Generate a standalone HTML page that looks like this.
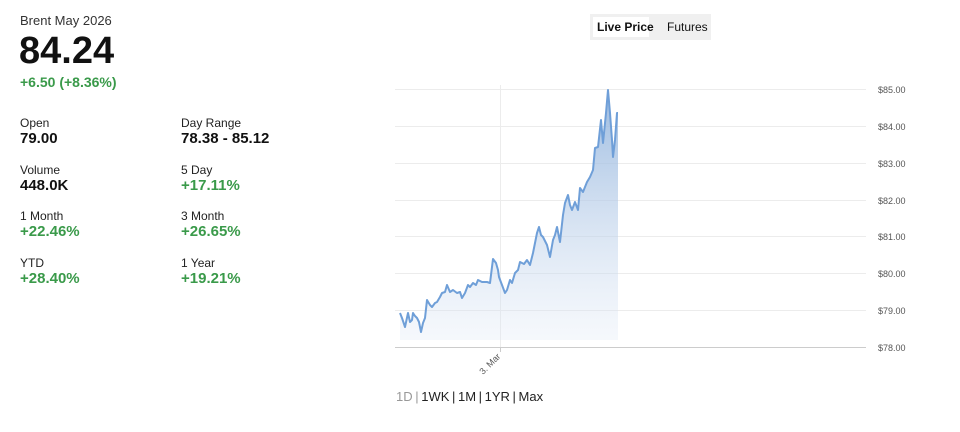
<!DOCTYPE html>
<html><head><meta charset="utf-8"><style>
body{margin:0;width:960px;height:432px;background:#fff;font-family:"Liberation Sans",sans-serif;position:relative;overflow:hidden;color:#111}
.a{position:absolute;white-space:nowrap}
.l{font-size:12px;color:#222}
.v{font-size:15px;font-weight:bold}
.g{color:#3a9a4a}
</style></head><body>
<div class="a" style="left:20px;top:13px;font-size:13px;color:#333">Brent May 2026</div>
<div class="a" style="left:19px;top:30px;font-size:38px;font-weight:bold">84.24</div>
<div class="a g" style="left:20px;top:74px;font-size:14px;font-weight:bold">+6.50 (+8.36%)</div>
<div class="a l" style="left:20px;top:116px">Open</div><div class="a v" style="left:20px;top:130px">79.00</div>
<div class="a l" style="left:181px;top:116px">Day Range</div><div class="a v" style="left:181px;top:130px">78.38 - 85.12</div>
<div class="a l" style="left:20px;top:163px">Volume</div><div class="a v" style="left:20px;top:177px">448.0K</div>
<div class="a l" style="left:181px;top:163px">5 Day</div><div class="a v g" style="left:181px;top:177px">+17.11%</div>
<div class="a l" style="left:20px;top:209px">1 Month</div><div class="a v g" style="left:20px;top:223px">+22.46%</div>
<div class="a l" style="left:181px;top:209px">3 Month</div><div class="a v g" style="left:181px;top:223px">+26.65%</div>
<div class="a l" style="left:20px;top:256px">YTD</div><div class="a v g" style="left:20px;top:270px">+28.40%</div>
<div class="a l" style="left:181px;top:256px">1 Year</div><div class="a v g" style="left:181px;top:270px">+19.21%</div>
<div class="a" style="left:590px;top:14px;width:121px;height:26px;background:#f0f0f0"></div>
<div class="a" style="left:593px;top:17px;width:56px;height:20px;background:#fff"></div>
<div class="a" style="left:597px;top:20px;font-size:12px;font-weight:bold">Live Price</div>
<div class="a" style="left:667px;top:20px;font-size:12px">Futures</div>
<svg class="a" style="left:0;top:0" width="960" height="432">
<defs><linearGradient id="f" x1="0" y1="0" x2="0" y2="1"><stop offset="0" stop-color="#8fb2dc" stop-opacity="0.9"/><stop offset="1" stop-color="#dfe8f5" stop-opacity="0.3"/></linearGradient></defs>
<g stroke="#ececec" stroke-width="1">
<line x1="395" y1="89.5" x2="866" y2="89.5"/><line x1="395" y1="126.5" x2="866" y2="126.5"/><line x1="395" y1="163.5" x2="866" y2="163.5"/><line x1="395" y1="200.5" x2="866" y2="200.5"/><line x1="395" y1="236.5" x2="866" y2="236.5"/><line x1="395" y1="273.5" x2="866" y2="273.5"/><line x1="395" y1="310.5" x2="866" y2="310.5"/>
<line x1="500.5" y1="85" x2="500.5" y2="347"/></g>
<line x1="395" y1="347.5" x2="866" y2="347.5" stroke="#ccc"/>
<line x1="500.5" y1="347" x2="500.5" y2="352" stroke="#ccc"/>
<path d="M400,313 L402,318 L405,327 L408,313 L410,322 L412,320 L413,313 L415,316 L417,318 L419,322 L421,332 L423,323 L425,318 L427,300 L430,305 L432,307 L435,303 L437,302 L440,297 L442,293 L445,292 L447,285 L450,292 L453,290 L457,293 L460,292 L462,298 L465,293 L468,285 L470,287 L473,283 L476,285 L478,280 L482,282 L487,282 L490,283 L493,259 L496,263 L498,270 L499,277 L502,285 L505,293 L507,290 L510,280 L512,283 L515,273 L518,270 L520,262 L524,264 L527,260 L530,265 L533,253 L537,233 L539,227 L541,235 L543,237 L547,245 L550,257 L553,240 L555,235 L557,227 L560,242 L563,215 L565,203 L568,195 L570,205 L572,210 L575,202 L578,210 L580,188 L583,192 L587,182 L590,177 L593,170 L595,148 L598,147 L601,120 L603,143 L606,113 L608,90 L610,113 L612,140 L613,157 L615,140 L617,113 L618,113 L618,340 L400,340 Z" fill="url(#f)"/>
<path d="M400,313 L402,318 L405,327 L408,313 L410,322 L412,320 L413,313 L415,316 L417,318 L419,322 L421,332 L423,323 L425,318 L427,300 L430,305 L432,307 L435,303 L437,302 L440,297 L442,293 L445,292 L447,285 L450,292 L453,290 L457,293 L460,292 L462,298 L465,293 L468,285 L470,287 L473,283 L476,285 L478,280 L482,282 L487,282 L490,283 L493,259 L496,263 L498,270 L499,277 L502,285 L505,293 L507,290 L510,280 L512,283 L515,273 L518,270 L520,262 L524,264 L527,260 L530,265 L533,253 L537,233 L539,227 L541,235 L543,237 L547,245 L550,257 L553,240 L555,235 L557,227 L560,242 L563,215 L565,203 L568,195 L570,205 L572,210 L575,202 L578,210 L580,188 L583,192 L587,182 L590,177 L593,170 L595,148 L598,147 L601,120 L603,143 L606,113 L608,90 L610,113 L612,140 L613,157 L615,140 L617,113 L618,113" fill="none" stroke="#6f9fd8" stroke-width="2" stroke-linejoin="round"/>
<g font-size="9" fill="#555" font-family="Liberation Sans,sans-serif">
<text x="878" y="93">$85.00</text><text x="878" y="130">$84.00</text><text x="878" y="167">$83.00</text><text x="878" y="204">$82.00</text><text x="878" y="240">$81.00</text><text x="878" y="277">$80.00</text><text x="878" y="314">$79.00</text><text x="878" y="351">$78.00</text>
<text x="0" y="0" transform="translate(501,357) rotate(-45)" text-anchor="end">3. Mar</text></g>
</svg>
<div class="a" style="left:396px;top:389px;font-size:13px;color:#222;word-spacing:-1px"><span style="color:#999">1D |</span> 1WK | 1M | 1YR | Max</div>
</body></html>
